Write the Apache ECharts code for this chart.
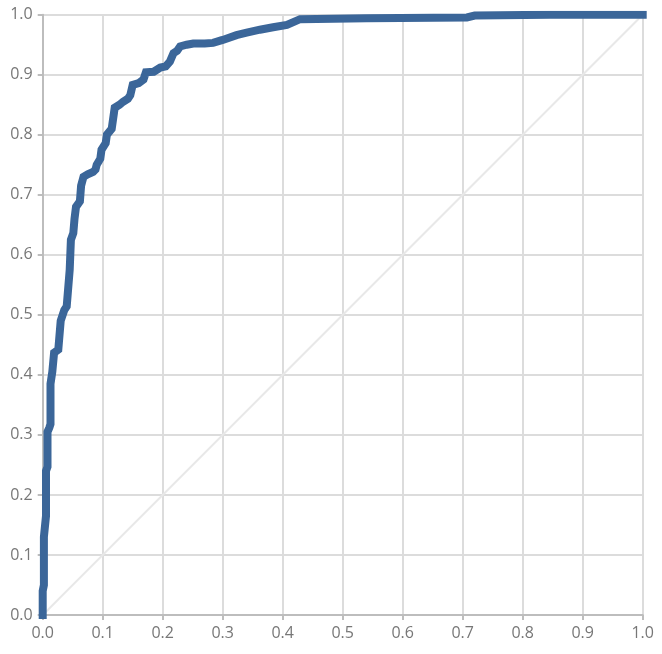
<!DOCTYPE html>
<html>
<head>
<meta charset="utf-8">
<script src="https://cdn.jsdelivr.net/npm/echarts@6/dist/echarts.min.js"></script>
<style>html,body{margin:0;padding:0;background:#fff;}#c{width:662px;height:654px;}</style>
</head>
<body>
<div id="c"></div>
<script>
var fpr = [0.000,0.000,0.002,0.002,0.004,0.0055,0.0055,0.008,0.008,0.011,0.013,0.013,0.016,0.019,0.026,0.030,0.036,0.040,0.045,0.047,0.051,0.053,0.0555,0.062,0.064,0.068,0.075,0.084,0.088,0.090,0.096,0.098,0.105,0.107,0.115,0.120,0.128,0.134,0.142,0.146,0.150,0.160,0.168,0.172,0.185,0.196,0.205,0.212,0.218,0.224,0.229,0.240,0.251,0.270,0.284,0.300,0.323,0.340,0.362,0.384,0.407,0.429,0.540,0.707,0.720,0.845,1.000];
var tpr = [0.000,0.040,0.050,0.130,0.150,0.165,0.240,0.247,0.305,0.312,0.318,0.385,0.405,0.437,0.442,0.490,0.508,0.514,0.575,0.625,0.636,0.660,0.680,0.689,0.715,0.730,0.734,0.738,0.742,0.750,0.760,0.775,0.786,0.800,0.810,0.845,0.850,0.855,0.860,0.866,0.883,0.886,0.892,0.904,0.905,0.912,0.914,0.922,0.936,0.940,0.947,0.950,0.952,0.952,0.953,0.958,0.966,0.970,0.975,0.979,0.983,0.9925,0.994,0.9955,0.9985,1.000,1.000];
var ticks = [0,0.1,0.2,0.3,0.4,0.5,0.6,0.7,0.8,0.9,1.0];
var rocData = fpr.map(function(x,i){return [x,tpr[i]];});
var diagData = [[0,0],[1,1]];
var chart = echarts.init(document.getElementById('c'));
var axisCommon = {
  type:'value', min:0, max:1, interval:0.1,
  axisLine:{show:true,lineStyle:{color:'#bdbdbd',width:2}},
  axisTick:{show:true,length:5,lineStyle:{color:'#bdbdbd',width:2}},
  splitLine:{show:true,lineStyle:{color:'#dcdcdc',width:2}},
  axisLabel:{color:'#777',fontSize:16,fontFamily:'Open Sans',margin:10,
    formatter:function(v){return v.toFixed(1);}}
};
chart.setOption({
  animation:false,
  grid:{left:42.7,right:19.3,top:14.7,bottom:39,containLabel:false},
  xAxis:Object.assign({},axisCommon),
  yAxis:Object.assign({},axisCommon),
  series:[
    {type:'line',data:diagData,symbol:'none',silent:true,
     lineStyle:{color:'#e8e8e8',width:2}},
    {type:'line',data:rocData,symbol:'none',
     lineStyle:{color:'#3b6699',width:8,cap:'square',join:'miter'}}
  ]
});
</script>
</body>
</html>
